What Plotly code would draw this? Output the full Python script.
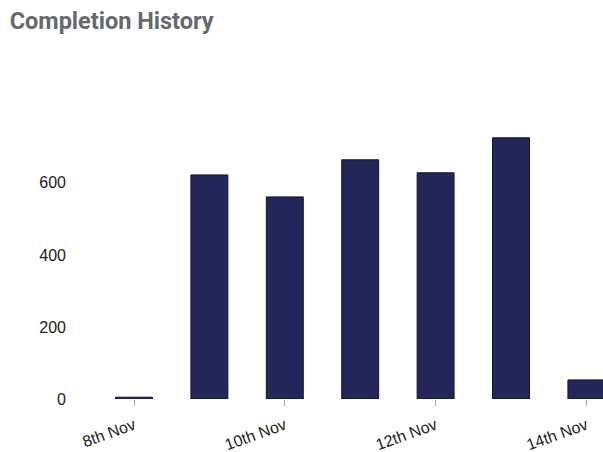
import plotly.graph_objects as go

categories = ["8th Nov", "9th Nov", "10th Nov", "11th Nov", "12th Nov", "13th Nov", "14th Nov"]
values = [5, 622, 561, 664, 628, 725, 53]
tick_idx = [0, 2, 4, 6]
y_ticks = [0, 200, 400, 600]

x = list(range(len(categories)))

fig = go.Figure(go.Bar(
    x=x, y=values, width=0.49,
    marker=dict(color="#222658", line=dict(color="#111330", width=1)),
))

fig.update_layout(
    width=603, height=452,
    margin=dict(l=75, r=0, t=60, b=53),
    plot_bgcolor="white", paper_bgcolor="white",
    showlegend=False,
    bargap=0.5,
    title=dict(text="<b>Completion History</b>", x=0.016, xanchor="left", y=0.955, yanchor="middle",
               font=dict(family="Roboto", size=23.5, color="#66696e")),
    font=dict(family="Liberation Sans", size=16, color="#222"),
)
fig.update_xaxes(
    range=[(75 - 134) / 75.4, (603 - 134) / 75.4],
    tickmode="array", tickvals=tick_idx, ticktext=[categories[i] for i in tick_idx],
    tickangle=-20, ticks="outside", ticklen=6, tickcolor="#aaa",
    showgrid=False, zeroline=False, showline=False, automargin=False,
    ticklabelstandoff=4,
)
fig.update_yaxes(
    range=[0, 941], tickmode="array", tickvals=y_ticks,
    showgrid=False, zeroline=False, showline=False, automargin=False,
    ticklabelstandoff=8,
)

fig.write_html("out.html")
